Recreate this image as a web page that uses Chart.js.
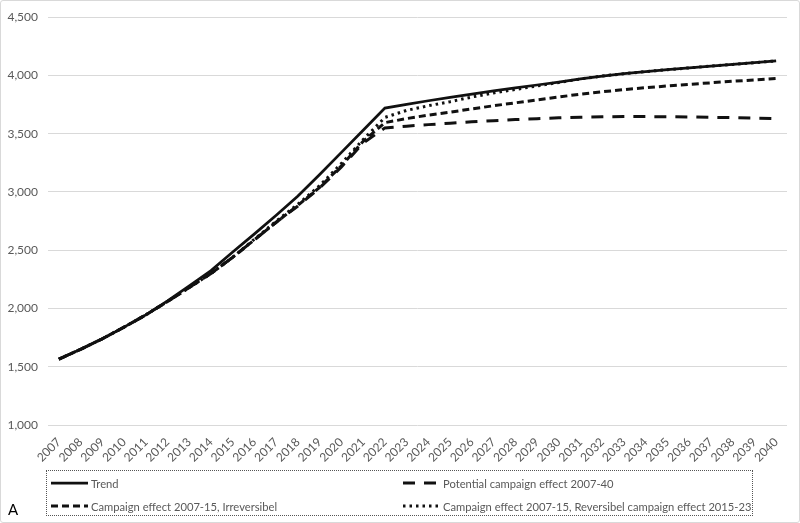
<!DOCTYPE html>
<html>
<head>
<meta charset="utf-8">
<script src="https://cdn.jsdelivr.net/npm/chart.js@4.4.1/dist/chart.umd.min.js"></script>
<style>
  html, body { margin: 0; padding: 0; background: #fff; }
  #wrap { position: relative; width: 800px; height: 523px; }
  #frame { position: absolute; left: 0; top: 0; width: 800px; height: 523px; box-sizing: border-box; border: 1px solid #d9d9d9; border-radius: 3px; pointer-events: none; }
  #myChart { position: absolute; left: 0; top: 0; }
  #legend {
    position: absolute; left: 46px; top: 470px; width: 707px; height: 46px;
    box-sizing: border-box; border: 1px dotted #555;
    font-family: Lato, "Open Sans", sans-serif; font-size: 11.2px; color: #595959;
  }
  .item { position: absolute; display: flex; align-items: center; height: 16px; white-space: nowrap; }
  .item svg { margin-right: 3px; }
  #letter { position: absolute; left: 8px; top: 500px; font-family: Lato, sans-serif; font-size: 15px; color: #000; }
</style>
</head>
<body>
<div id="wrap">
  <canvas id="myChart" width="800" height="523"></canvas>
  <div id="legend"></div>
  <div id="letter">A</div>
  <div id="frame"></div>
</div>
<script>
const years = ['2007','2008','2009','2010','2011','2012','2013','2014','2015','2016','2017','2018','2019','2020','2021','2022','2023','2024','2025','2026','2027','2028','2029','2030','2031','2032','2033','2034','2035','2036','2037','2038','2039','2040']

const trend = [1565, 1650, 1740, 1840, 1945, 2065, 2195, 2325, 2485, 2640, 2800, 2965, 3150, 3340, 3530, 3720,
  3752, 3783, 3812, 3840, 3867, 3893, 3918, 3943, 3970, 3995, 4015, 4033, 4050, 4065, 4080, 4095, 4110, 4125]

const potential = [1565, 1650, 1740, 1840, 1945, 2060, 2180, 2300, 2440, 2590, 2740, 2880, 3035, 3215, 3420, 3550,
  3565, 3578, 3590, 3602, 3612, 3621, 3629, 3636, 3641, 3645, 3647, 3647, 3646, 3644, 3641, 3638, 3634, 3630]

const irreversible = [1565, 1650, 1740, 1840, 1945, 2060, 2180, 2300, 2440, 2590, 2740, 2885, 3040, 3225, 3435, 3595,
  3630, 3660, 3685, 3713, 3740, 3765, 3790, 3815, 3840, 3860, 3878, 3895, 3910, 3924, 3937, 3950, 3962, 3975]

const reversible = [1565, 1650, 1740, 1840, 1945, 2060, 2180, 2300, 2440, 2595, 2750, 2895, 3055, 3245, 3450, 3640,
  3700, 3740, 3775, 3815, 3850, 3880, 3910, 3940, 3970, 3995, 4015, 4033, 4050, 4065, 4080, 4095, 4110, 4125]

const seriesNames = ['Trend', 'Potential campaign effect 2007-40', 'Campaign effect 2007-15, Irreversibel', 'Campaign effect 2007-15, Reversibel campaign effect 2015-23']

const ctx = document.getElementById('myChart').getContext('2d')
const myChart = new Chart(ctx, {
    type: 'line',
    data: {
        labels: years,
        datasets: [
            { label: seriesNames[0], data: trend, borderColor: '#111', borderWidth: 2.75, borderDash: [] },
            { label: seriesNames[1], data: potential, borderColor: '#111', borderWidth: 3, borderDash: [12, 9] },
            { label: seriesNames[2], data: irreversible, borderColor: '#111', borderWidth: 3, borderDash: [7, 4] },
            { label: seriesNames[3], data: reversible, borderColor: '#111', borderWidth: 3, borderDash: [2.5, 4] }
        ]
    },
    options: {
        responsive: false,
        animation: false,
        elements: { point: { radius: 0 }, line: { tension: 0 } },
        layout: { padding: { top: 15, left: 0, right: 13, bottom: 58 } },
        plugins: { legend: { display: false }, tooltip: { enabled: false } },
        scales: {
            x: {
                offset: true,
                grid: { display: false },
                border: { display: false },
                ticks: {
                    autoSkip: false, maxRotation: 45, minRotation: 45, padding: 2,
                    color: '#595959', font: { family: 'Lato', size: 12 }
                },
                afterFit: function (scale) { scale.height = 40 }
            },
            y: {
                min: 1000, max: 4500,
                grid: { color: '#d9d9d9', drawTicks: false },
                border: { display: false },
                ticks: {
                    stepSize: 500, padding: 10,
                    color: '#595959', font: { family: 'Lato', size: 12 },
                    callback: function (v) { return v.toLocaleString('en-US') }
                },
                afterFit: function (scale) { scale.width = 48 }
            }
        }
    }
})

// legend in two columns, like the original
const legendPos = [[4, 4], [356, 4], [4, 27], [356, 27]]
const legend = document.getElementById('legend')
myChart.data.datasets.forEach(function (ds, i) {
    const div = document.createElement('div')
    div.className = 'item'
    div.style.left = legendPos[i][0] + 'px'
    div.style.top = legendPos[i][1] + 'px'
    const dash = ds.borderDash.length ? ds.borderDash.join(' ') : 'none'
    div.innerHTML = '<svg width="37" height="6"><line x1="0" y1="3" x2="37" y2="3" stroke="' + ds.borderColor +
        '" stroke-width="' + ds.borderWidth + '" stroke-dasharray="' + dash + '"/></svg><span>' + ds.label + '</span>'
    legend.appendChild(div)
})
</script>
</body>
</html>
